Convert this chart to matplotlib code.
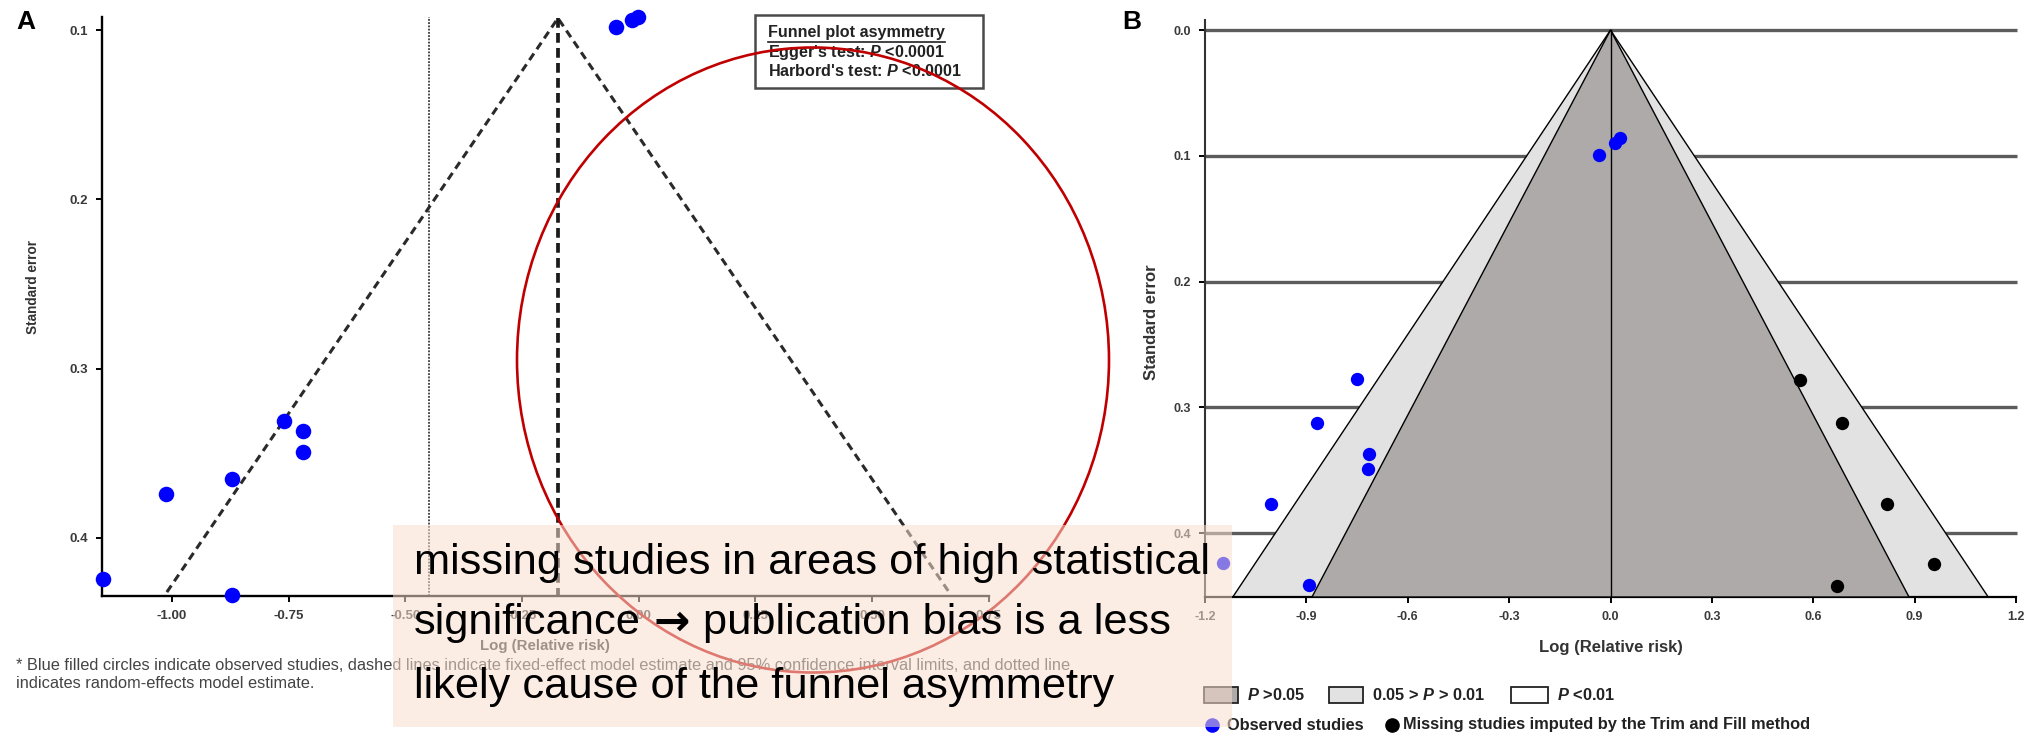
import matplotlib
matplotlib.use('Agg')
import matplotlib.pyplot as plt
from matplotlib.patches import Rectangle, Ellipse, Polygon
from matplotlib.lines import Line2D

plt.rcParams['font.family'] = ['Liberation Sans', 'DejaVu Sans']
plt.rcParams['axes.unicode_minus'] = False
plt.rcParams['mathtext.fontset'] = 'custom'
plt.rcParams['mathtext.rm'] = 'Liberation Sans:bold'
plt.rcParams['mathtext.it'] = 'Liberation Sans:italic:bold'
plt.rcParams['mathtext.bf'] = 'Liberation Sans:bold'

# ---- panel A: funnel plot (log RR vs standard error) ----
obs_a_lrr = [-0.049, -0.014, -0.001, -0.761, -0.720, -0.720, -0.871, -1.012, -1.148, -0.871]
obs_a_se = [0.098, 0.094, 0.092, 0.331, 0.337, 0.349, 0.365, 0.374, 0.424, 0.434]
funnel_a_lrr = [-1.011, -0.173, 0.665]
funnel_a_se = [0.432, 0.093, 0.432]
fixed_est_a = -0.173
random_est_a = -0.450
xticks_a = [-1.00, -0.75, -0.50, -0.25, 0.00, 0.25, 0.50, 0.75]
yticks_a = [0.1, 0.2, 0.3, 0.4]

# ---- panel B: contour-enhanced funnel with trim and fill ----
obs_b_lrr = [-0.035, 0.012, 0.029, -0.749, -0.870, -0.716, -0.719, -1.005, -1.147, -0.891]
obs_b_se = [0.099, 0.090, 0.086, 0.277, 0.312, 0.337, 0.349, 0.377, 0.424, 0.441]
imp_b_lrr = [0.562, 0.685, 0.818, 0.957, 0.669]
imp_b_se = [0.278, 0.312, 0.377, 0.4245, 0.442]
z_inner, z_outer = 1.96, 2.48
se_max_b = 0.4507
xticks_b = [-1.2, -0.9, -0.6, -0.3, 0.0, 0.3, 0.6, 0.9, 1.2]
yticks_b = [0.0, 0.1, 0.2, 0.3, 0.4]

W, H = 2042, 735
fig = plt.figure(figsize=(W / 100, H / 100), dpi=100)


def px_axes(left, top, right, bottom):
    return fig.add_axes([left / W, 1 - bottom / H, (right - left) / W, (bottom - top) / H])


def fx(x):
    return x / W


def fy(y):
    return 1 - y / H


tick_col = '#3a3a3a'

# panel A
axA = px_axes(102, 16.5, 988.7, 596)
axA.set_xlim(-1.15, 0.75)
axA.set_ylim(0.4343, 0.0920)
for s in ('top', 'right'):
    axA.spines[s].set_visible(False)
for s in ('left', 'bottom'):
    axA.spines[s].set_linewidth(1.7)
    axA.spines[s].set_color('black')
axA.set_xticks(xticks_a)
axA.set_xticklabels(['%.2f' % v for v in xticks_a])
axA.set_yticks(yticks_a)
axA.set_yticklabels(['%.1f' % v for v in yticks_a])
axA.tick_params(length=4, width=1.4, labelsize=9.5, labelcolor=tick_col, pad=6)
for lab in axA.get_xticklabels() + axA.get_yticklabels():
    lab.set_fontweight('bold')

axA.plot(funnel_a_lrr, funnel_a_se, color='#2a2a2a', lw=2.2, ls=(0, (2.6, 1.7)), zorder=2)
axA.plot([fixed_est_a, fixed_est_a], [funnel_a_se[1], 0.4343], color='#1a1a1a', lw=2.7,
         ls=(0, (2.6, 1.4)), zorder=2, clip_on=False)
axA.axvline(random_est_a, color='#3a3a3a', lw=1.3, ls=(0, (1, 0.8)), zorder=1)
axA.scatter(obs_a_lrr, obs_a_se, s=125, color='#0000ff', linewidths=0, zorder=5, clip_on=False)

axA.set_xlabel('Log (Relative risk)', labelpad=12, fontsize=10.8, fontweight='bold',
               color='#333333')
fig.text(fx(33), fy(287), 'Standard error', rotation=90, ha='center', va='center',
         fontsize=9.8, fontweight='bold', color='#333333')
fig.text(fx(26), fy(22), 'A', fontsize=19, fontweight='bold', ha='center', va='center')

# Egger / Harbord box
fig.add_artist(Rectangle((fx(755), fy(88)), fx(983) - fx(755), (88 - 15) / H,
                         transform=fig.transFigure, facecolor='white',
                         edgecolor='#4a4a4a', lw=1.8, zorder=3))
box_kw = dict(fontsize=11.6, fontweight='bold', color='#222222', va='center', zorder=4)
t_head = fig.text(fx(768), fy(33), 'Funnel plot asymmetry', **box_kw)
fig.text(fx(768), fy(52), "Egger's test: $P$ <0.0001", **box_kw)
fig.text(fx(768), fy(71), "Harbord's test: $P$ <0.0001", **box_kw)

foot1 = fig.text(fx(16), fy(665), '* Blue filled circles indicate observed studies, dashed lines '
                 'indicate fixed-effect model estimate and 95% confidence interval limits, '
                 'and dotted line', fontsize=10.5, color='#444444', va='center')
foot2 = fig.text(fx(16), fy(683), 'indicates random-effects model estimate.',
                 fontsize=10.5, color='#444444', va='center')

# panel B
axB = px_axes(1205, 20, 2016, 597)
axB.set_xlim(-1.2, 1.2)
axB.set_ylim(se_max_b, -0.008)
for s in ('top', 'right'):
    axB.spines[s].set_visible(False)
axB.spines['left'].set_linewidth(1.5)
axB.spines['left'].set_color('#333333')
axB.spines['bottom'].set_linewidth(1.6)
axB.spines['bottom'].set_color('black')
axB.set_xticks(xticks_b)
axB.set_xticklabels(['%.1f' % v for v in xticks_b])
axB.set_yticks(yticks_b)
axB.set_yticklabels(['%.1f' % v for v in yticks_b])
axB.tick_params(length=4, width=1.4, labelsize=9, labelcolor=tick_col, pad=6)
for lab in axB.get_xticklabels() + axB.get_yticklabels():
    lab.set_fontweight('bold')

axB.hlines(yticks_b, -1.2, 1.203, color='#5c5c5c', lw=2.4, zorder=1, clip_on=False)
axB.add_patch(Polygon([(0, 0), (-z_outer * se_max_b, se_max_b), (z_outer * se_max_b, se_max_b)],
                      closed=True, facecolor='#e2e2e2', edgecolor='black', lw=1.0, zorder=2))
axB.add_patch(Polygon([(0, 0), (-z_inner * se_max_b, se_max_b), (z_inner * se_max_b, se_max_b)],
                      closed=True, facecolor='#aeaaa9', edgecolor='black', lw=1.0, zorder=3))
axB.plot([0, 0], [0, se_max_b], color='black', lw=1.0, zorder=4)
axB.scatter(obs_b_lrr, obs_b_se, s=92, color='#0000ff', linewidths=0, zorder=5, clip_on=False)
axB.scatter(imp_b_lrr, imp_b_se, s=92, color='black', linewidths=0, zorder=5, clip_on=False)

axB.set_xlabel('Log (Relative risk)', labelpad=12, fontsize=12, fontweight='bold',
               color='#333333')
fig.text(fx(1151), fy(322), 'Standard error', rotation=90, ha='center', va='center',
         fontsize=12, fontweight='bold', color='#333333')
fig.text(fx(1132), fy(22), 'B', fontsize=19, fontweight='bold', ha='center', va='center')

# panel B legend
leg_kw = dict(fontsize=11.8, fontweight='bold', color='#222222', va='center')
for (x0, x1), col, lab, tx in [((1204, 1238), '#aeaaa9', '$P$ >0.05', 1247),
                               ((1329, 1363), '#e2e2e2', '0.05 > $P$ > 0.01', 1372),
                               ((1511, 1548), 'white', '$P$ <0.01', 1557)]:
    fig.add_artist(Rectangle((fx(x0), fy(703)), fx(x1) - fx(x0), 16 / H, transform=fig.transFigure,
                             facecolor=col, edgecolor='#222222', lw=1.3))
    fig.text(fx(tx), fy(695), lab, **leg_kw)
fig.add_artist(Line2D([fx(1212)], [fy(725)], marker='o', ms=9.5, color='#0000ff',
                      transform=fig.transFigure))
fig.text(fx(1227), fy(725), 'Observed studies', **leg_kw)
fig.add_artist(Line2D([fx(1392)], [fy(725)], marker='o', ms=9.5, color='black',
                      transform=fig.transFigure))
fig.text(fx(1403), fy(725), 'Missing studies imputed by the Trim and Fill method', **leg_kw)

# red circle highlighting the empty region
fig.add_artist(Ellipse((fx(813), fy(360)), 592 / W, 625 / H, transform=fig.transFigure,
                       fill=False, edgecolor='#c00000', lw=1.9, zorder=5))

# annotation box
fig.add_artist(Rectangle((fx(393), fy(727)), fx(1232) - fx(393), (727 - 525) / H,
                         transform=fig.transFigure, facecolor=(248 / 255, 221 / 255, 206 / 255),
                         alpha=0.55, edgecolor='none', zorder=10))
note_fam = ['Liberation Sans', 'DejaVu Sans']
note_kw = dict(color='black', va='center', zorder=11)
fs0 = 30
line1 = fig.text(fx(414), fy(563), 'missing studies in areas of high statistical',
                 fontsize=fs0, family=note_fam, **note_kw)
fig.canvas.draw()
renderer = fig.canvas.get_renderer()
fs = fs0 * 793 / line1.get_window_extent(renderer).width
line1.set_fontsize(fs)

# footnote runs across to x=1081
fs_foot = 10.5 * 1065 / foot1.get_window_extent(renderer).width
foot1.set_fontsize(fs_foot)
foot2.set_fontsize(fs_foot)

# second line: words, heavy arrow, words
part_a = fig.text(fx(414), fy(623), 'significance', fontsize=fs, family=note_fam, **note_kw)
arrow = fig.text(0, fy(623), '\u2192', fontsize=fs, family=['DejaVu Sans'],
                 fontweight='bold', **note_kw)
part_c = fig.text(0, fy(623), 'publication bias is a less', fontsize=fs, family=note_fam,
                  **note_kw)
fig.text(fx(414), fy(687), 'likely cause of the funnel asymmetry', fontsize=fs,
         family=note_fam, **note_kw)
gap = 0.3 * fs * 100 / 72
x_end = part_a.get_window_extent(renderer).x1
arrow.set_x((x_end + gap) / W)
x_end = arrow.get_window_extent(renderer).x1
part_c.set_x((x_end + gap) / W)

bb = t_head.get_window_extent(renderer)
fig.add_artist(Line2D([bb.x0 / W, bb.x1 / W], [(bb.y0 - 1) / H] * 2, color='#222222', lw=1.2,
                      transform=fig.transFigure, zorder=4))

fig.savefig('out.png', dpi=100)
